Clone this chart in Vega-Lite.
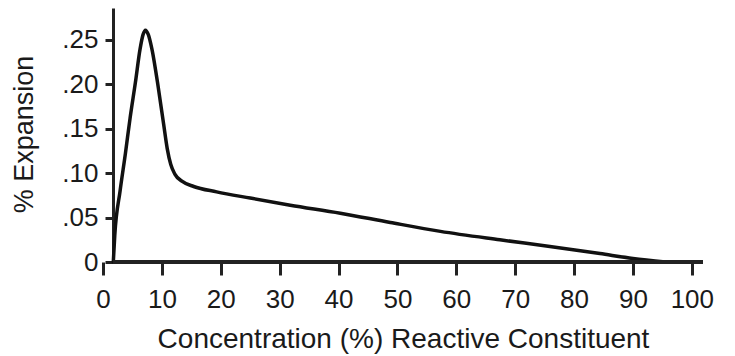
{
  "$schema": "https://vega.github.io/schema/vega-lite/v6.json",
  "width": 600,
  "height": 254,
  "autosize": "none",
  "padding": {"left": 103, "top": 8, "right": 32, "bottom": 94},
  "background": "white",
  "config": {
    "view": {"stroke": null},
    "font": "Liberation Sans"
  },
  "data": {
    "values": [
      {"conc": 1.75, "exp": 0.0},
      {"conc": 2.0, "exp": 0.03},
      {"conc": 2.9, "exp": 0.08},
      {"conc": 3.8, "exp": 0.122},
      {"conc": 4.6, "exp": 0.162},
      {"conc": 5.5, "exp": 0.202},
      {"conc": 6.3, "exp": 0.240},
      {"conc": 6.8, "exp": 0.256},
      {"conc": 7.2, "exp": 0.261},
      {"conc": 7.7, "exp": 0.256},
      {"conc": 8.3, "exp": 0.240},
      {"conc": 9.4, "exp": 0.196},
      {"conc": 10.3, "exp": 0.155},
      {"conc": 10.9, "exp": 0.128},
      {"conc": 11.5, "exp": 0.110},
      {"conc": 12.2, "exp": 0.099},
      {"conc": 13.4, "exp": 0.091},
      {"conc": 15.4, "exp": 0.085},
      {"conc": 19.3, "exp": 0.079},
      {"conc": 25.0, "exp": 0.072},
      {"conc": 31.8, "exp": 0.064},
      {"conc": 40.3, "exp": 0.055},
      {"conc": 48.8, "exp": 0.0445},
      {"conc": 57.3, "exp": 0.0345},
      {"conc": 67.4, "exp": 0.025},
      {"conc": 75.9, "exp": 0.0175},
      {"conc": 84.4, "exp": 0.0095},
      {"conc": 90.0, "exp": 0.004},
      {"conc": 95.5, "exp": 0.0}
    ]
  },
  "layer": [
    {
      "mark": {"type": "line", "color": "#111111", "strokeWidth": 3.5, "interpolate": "monotone", "strokeJoin": "round", "strokeCap": "round"},
      "encoding": {
        "x": {
          "field": "conc",
          "type": "quantitative",
          "scale": {"domain": [0, 101.9], "nice": false, "zero": false},
          "axis": {
            "title": "Concentration (%) Reactive Constituent",
            "values": [0, 10, 20, 30, 40, 50, 60, 70, 80, 90, 100],
            "domain": false,
            "grid": false,
            "ticks": true,
            "tickSize": 13,
            "tickWidth": 3,
            "tickColor": "#222222",
            "labelFont": "Liberation Sans",
            "labelFontSize": 26,
            "labelColor": "#1a1a1a",
            "labelPadding": 11,
            "labelFlush": false,
            "labelOverlap": false,
            "titleFont": "Liberation Sans",
            "titleFontSize": 28,
            "titleFontWeight": "normal",
            "titleColor": "#1a1a1a",
            "titleBaseline": "alphabetic",
            "titleY": 85
          }
        },
        "y": {
          "field": "exp",
          "type": "quantitative",
          "scale": {"domain": [0, 0.286], "nice": false, "zero": true},
          "axis": {
            "title": "% Expansion",
            "values": [0, 0.05, 0.1, 0.15, 0.2, 0.25],
            "labelExpr": "datum.value == 0 ? '0' : replace(format(datum.value, '.2f'), '0.', '.')",
            "offset": -10,
            "grid": false,
            "domain": true,
            "domainWidth": 3,
            "domainColor": "#222222",
            "tickSize": 8,
            "tickWidth": 3,
            "tickColor": "#222222",
            "labelFont": "Liberation Sans",
            "labelFontSize": 26,
            "labelColor": "#1a1a1a",
            "labelPadding": 7,
            "labelFlush": false,
            "labelOverlap": false,
            "titleFont": "Liberation Sans",
            "titleFontSize": 27,
            "titleFontWeight": "normal",
            "titleColor": "#1a1a1a",
            "titleAngle": -90,
            "titleAlign": "center",
            "titleBaseline": "middle",
            "titleX": -89,
            "titleY": 126
          }
        }
      }
    },
    {
      "mark": {"type": "rule", "color": "#222222", "strokeWidth": 3},
      "encoding": {
        "x": {"datum": 1.7, "type": "quantitative"},
        "x2": {"datum": 101.9},
        "y": {"datum": 0, "type": "quantitative"}
      }
    }
  ]
}
